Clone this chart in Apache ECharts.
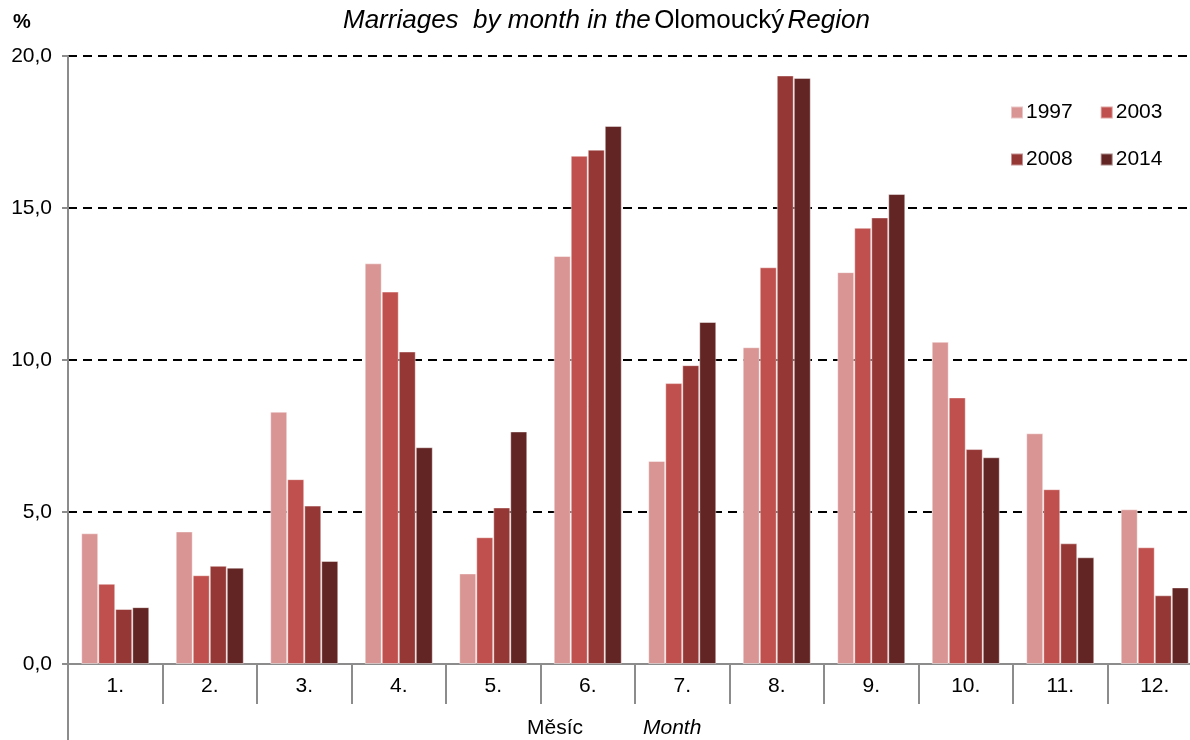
<!DOCTYPE html>
<html>
<head>
<meta charset="utf-8">
<script src="https://cdn.jsdelivr.net/npm/echarts@6/dist/echarts.min.js"></script>
<style>
    html, body { margin: 0; padding: 0; background: #fff; overflow: hidden; }
    /* the plot area runs a bit past the right edge of the window, as in the original */
    #chart { width: 1202px; height: 740px; }
</style>
</head>
<body>
<div id="chart"></div>
<script>
var months = ['1.', '2.', '3.', '4.', '5.', '6.', '7.', '8.', '9.', '10.', '11.', '12.'];
var years = ['1997', '2003', '2008', '2014'];
var v1997 = [4.30, 4.36, 8.30, 13.18, 2.98, 13.42, 6.68, 10.42, 12.89, 10.60, 7.59, 5.09];
var v2003 = [2.64, 2.92, 6.08, 12.25, 4.17, 16.72, 9.24, 13.05, 14.35, 8.77, 5.75, 3.84];
var v2008 = [1.81, 3.23, 5.21, 10.28, 5.15, 16.92, 9.83, 19.36, 14.69, 7.07, 3.97, 2.26];
var v2014 = [1.87, 3.17, 3.39, 7.13, 7.65, 17.70, 11.25, 19.28, 15.46, 6.80, 3.51, 2.52];
var colors = ['#D99594', '#C0504D', '#953735', '#632523'];

(function(){
    var font = '"Liberation Sans", Arial, sans-serif';
    var myChart = echarts.init(document.getElementById('chart'));
    var values = [v1997, v2003, v2008, v2014];

    var series = years.map(function(y, i) {
        return {
            name: y,
            type: 'bar',
            data: values[i],
            barGap: '0%',
            barCategoryGap: '28%',
            itemStyle: {
                color: colors[i],
                borderColor: 'rgba(255,255,255,0.45)',
                borderWidth: 1
            }
        };
    });

    var legendBase = {
        left: 1005,
        itemWidth: 12,
        itemHeight: 12,
        itemGap: 27,
        icon: 'rect',
        textStyle: { fontFamily: font, fontSize: 21, color: '#000', padding: [0, 0, 0, -2] }
    };

    var option = {
        animation: false,
        textStyle: { fontFamily: font },
        legend: [
            Object.assign({}, legendBase, { top: 97, data: ['1997', '2003'] }),
            Object.assign({}, legendBase, { top: 144, data: ['2008', '2014'] })
        ],
        grid: { left: 68, top: 56, bottom: 76, right: 0 },
        xAxis: {
            type: 'category',
            data: months,
            axisLine: { lineStyle: { color: '#8c8c8c', width: 2 } },
            axisTick: { show: true, length: 40, interval: 0, lineStyle: { color: '#8c8c8c', width: 2 } },
            axisLabel: { fontFamily: font, fontSize: 21, color: '#000', margin: 12, interval: 0 }
        },
        yAxis: {
            type: 'value',
            min: 0,
            max: 20,
            interval: 5,
            axisLine: { show: true, lineStyle: { color: '#8c8c8c', width: 2 } },
            axisTick: { show: true, length: 6, lineStyle: { color: '#8c8c8c', width: 2 } },
            axisLabel: {
                fontFamily: font, fontSize: 21, color: '#000', margin: 16,
                formatter: function(v) { return v.toFixed(1).replace('.', ','); }
            },
            splitLine: { lineStyle: { color: '#000', width: 2, type: [9, 6] } }
        },
        graphic: [
            {
                type: 'line',
                shape: { x1: 68, y1: 664, x2: 68, y2: 740 },
                style: { stroke: '#8c8c8c', lineWidth: 2 }
            },
            {
                type: 'text', left: 13, top: 12,
                style: { text: '%', font: 'bold 20px ' + font, fill: '#000' }
            },
            {
                type: 'text', left: 343, top: 8,
                style: {
                    text: '{i|Marriages  by month in the} {n|Olomoucký} {i|Region}',
                    rich: {
                        i: { fontFamily: font, fontStyle: 'italic', fontSize: 26, fill: '#000' },
                        n: { fontFamily: font, fontSize: 26, fill: '#000' }
                    }
                }
            },
            {
                type: 'text', left: 527, top: 718,
                style: { text: 'Měsíc', font: '21px ' + font, fill: '#000' }
            },
            {
                type: 'text', left: 643, top: 718,
                style: { text: 'Month', font: 'italic 21px ' + font, fill: '#000' }
            }
        ],
        series: series
    };
    myChart.setOption(option);
})();
</script>
</body>
</html>
